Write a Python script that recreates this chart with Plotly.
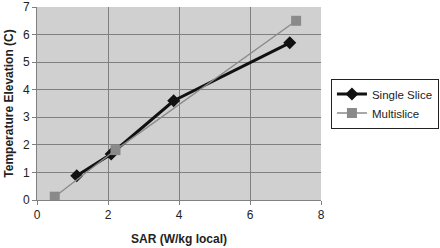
import plotly.graph_objects as go

single_x = [1.12, 2.09, 3.85, 7.12]
single_y = [0.88, 1.67, 3.6, 5.7]
multi_x = [0.5, 2.21, 7.3]
multi_y = [0.12, 1.81, 6.5]
x_ticks = [0, 2, 4, 6, 8]
y_ticks = [0, 1, 2, 3, 4, 5, 6, 7]

fig = go.Figure()
fig.add_trace(go.Scatter(x=single_x, y=single_y, name="Single Slice", mode="lines+markers",
                         line=dict(color="#111111", width=3),
                         marker=dict(symbol="diamond", size=10, color="#111111")))
fig.add_trace(go.Scatter(x=multi_x, y=multi_y, name="Multislice", mode="lines+markers",
                         line=dict(color="#8a8a8a", width=1.3),
                         marker=dict(symbol="square", size=10, color="#8a8a8a")))

fig.update_layout(
    width=440, height=248,
    margin=dict(l=37, r=119, t=7, b=48, autoexpand=False),
    paper_bgcolor="white", plot_bgcolor="#d0d0d0",
    font=dict(family="Liberation Sans, Arial", size=12, color="#222222"),
    showlegend=True,
    legend=dict(x=1.035, y=0.5, xanchor="left", yanchor="middle",
                bordercolor="#222222", borderwidth=1, bgcolor="white",
                font=dict(size=11.5), tracegroupgap=0, itemwidth=30),
    xaxis=dict(range=[0, 8], tickvals=x_ticks, showgrid=True, gridcolor="#808080", gridwidth=1,
               zeroline=False, showline=True, linecolor="#808080", mirror=False,
               ticks="outside", ticklen=4, tickcolor="#808080",
               title=dict(text="<b>SAR (W/kg local)</b>", standoff=13, font=dict(size=12))),
    yaxis=dict(range=[0, 7], tickvals=y_ticks, showgrid=True, gridcolor="#808080", gridwidth=1,
               zeroline=False, showline=True, linecolor="#808080",
               ticks="outside", ticklen=4, tickcolor="#808080", ticklabeloverflow="allow",
               title=dict(text="<b>Temperature Elevation (C)</b>", standoff=6, font=dict(size=12))),
)
fig.write_html("out.html", config={"displayModeBar": False},
               post_script="document.body.style.margin='0';document.body.style.overflow='hidden';")
